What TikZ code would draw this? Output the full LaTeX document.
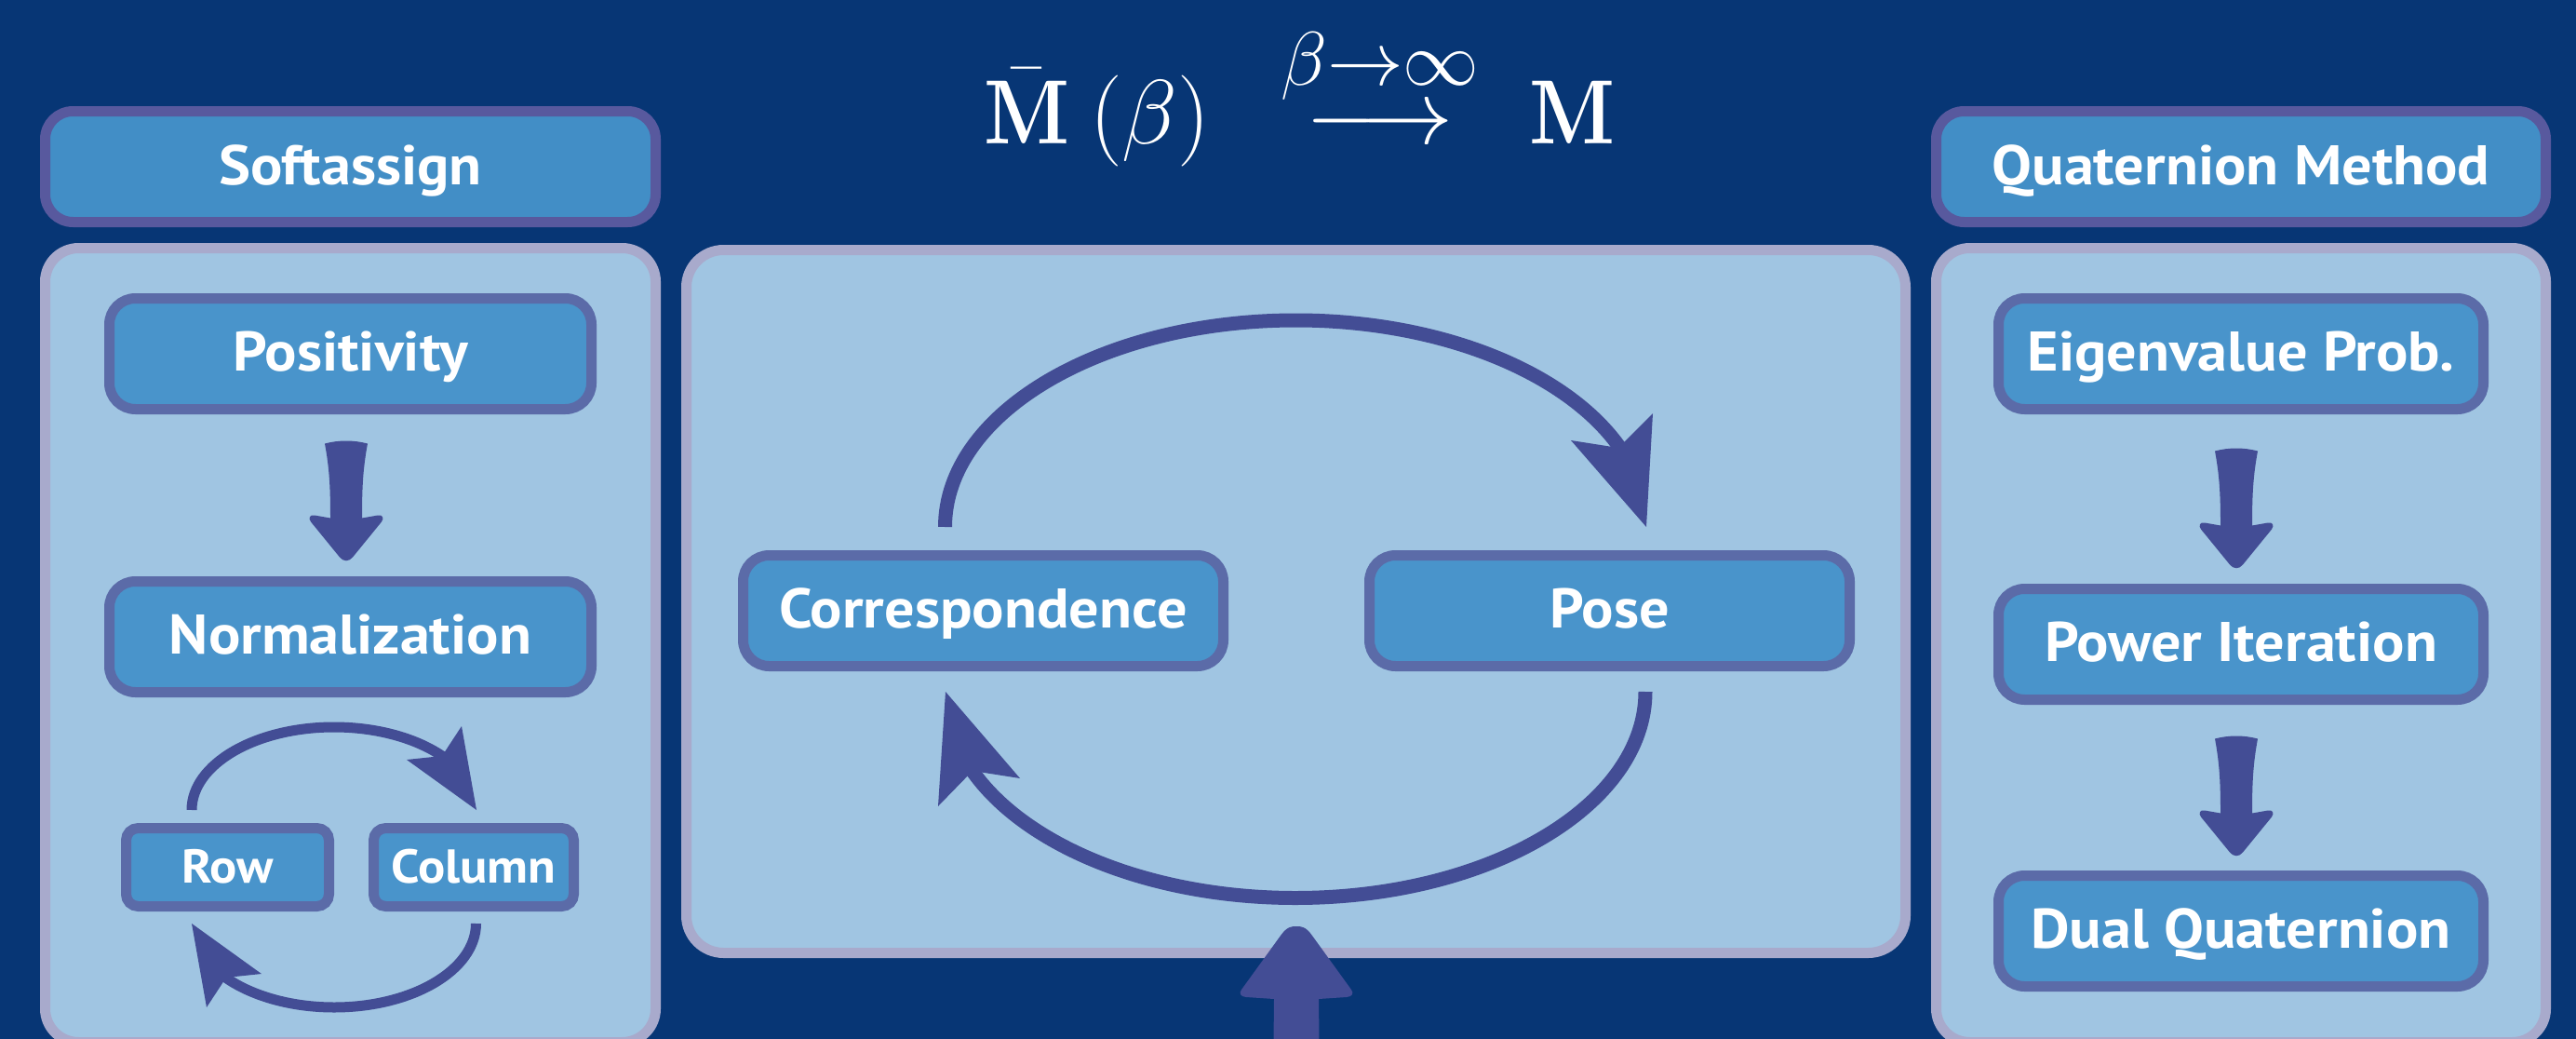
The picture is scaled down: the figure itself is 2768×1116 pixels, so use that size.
\documentclass[tikz,border=0pt]{standalone}
\usepackage{amsmath}
\usepackage[no-math]{fontspec}
\newfontfamily\boxfont{PT Sans}[FakeStretch=1.07]
\newfontfamily\lmbold{lmroman10-bold.otf}
\usetikzlibrary{calc}
\definecolor{bgc}{RGB}{7,54,117}
\definecolor{hdrfill}{RGB}{66,142,198}
\definecolor{hdrline}{RGB}{88,89,158}
\definecolor{boxfill}{RGB}{73,148,203}
\definecolor{boxline}{RGB}{91,107,168}
\definecolor{panelfill}{RGB}{160,197,226}
\definecolor{panelline}{RGB}{168,170,204}
\definecolor{arrowc}{RGB}{67,77,149}
\newcommand\boldM{\hbox{\scalebox{0.86}[1]{\lmbold M}}}
\tikzset{
  panel/.style={draw=panelline, fill=panelfill, line width=11pt, rounded corners=36pt, inner sep=0pt},
  header/.style={draw=hdrline, fill=hdrfill, line width=11pt, rounded corners=30pt, inner sep=0pt,
    text=white, font=\boxfont\bfseries\fontsize{60}{60}\selectfont, text height=38pt, text depth=0pt},
  stepbox/.style={draw=boxline, fill=boxfill, line width=11pt, rounded corners=28pt, inner sep=0pt,
    text=white, font=\boxfont\bfseries\fontsize{60}{60}\selectfont, text height=37pt, text depth=0pt},
  smallbox/.style={draw=boxline, fill=boxfill, line width=11pt, rounded corners=13pt, inner sep=0pt,
    text=white, font=\boxfont\bfseries\fontsize{51}{51}\selectfont, text height=33pt, text depth=0pt},
  loopbig/.style={draw=arrowc, line width=15pt},
  loopsmall/.style={draw=arrowc, line width=11pt},
  headfill/.style={fill=arrowc},
  blkdown/.pic={
    \fill[arrowc] (-23,3) .. controls (-8,-1) and (8,-1) .. (23,3)
      .. controls (18,30) and (17,50) .. (17,83)
      -- (34,80) .. controls (39,79) and (41,83) .. (38,87)
      -- (7,125) .. controls (3,130) and (-3,130) .. (-7,125)
      -- (-38,87) .. controls (-41,83) and (-39,79) .. (-34,80)
      -- (-17,83) .. controls (-17,50) and (-18,30) .. (-23,3) -- cycle;
  },
  blkup/.pic={
    \fill[arrowc] (-25,170) -- (-24,78) -- (-54,76)
      .. controls (-60,75.5) and (-62,72) .. (-59,68)
      -- (-17,10) .. controls (-10,0) and (-5,0) .. (0,0)
      .. controls (5,0) and (10,0) .. (17,10)
      -- (59,68) .. controls (62,72) and (60,75.5) .. (54,76)
      -- (24,78) -- (25,170) -- cycle;
  }
}
\begin{document}
\begin{tikzpicture}[x=1pt,y=-1pt]
\useasboundingbox (0,0) rectangle (2768,1116);
\fill[bgc] (0,0) rectangle (2768,1116);
\begin{scope}
\clip (0,0) rectangle (2768,1116);

% title formula
\node[anchor=base west, inner sep=0pt, text=white] (formula) at (1057,154)
  {\scalebox{3.94}{\fontsize{24.88}{30}\selectfont$\bar{\boldM}\mskip4mu(\beta)\mskip9mu\stackrel{\beta\to\infty}{\longrightarrow}\mskip5mu\boldM$}};

% left column
\node[header, minimum width=656pt, minimum height=119pt] (softhdr) at (376.5,179) {Softassign};
\node[panel, minimum width=656pt, minimum height=853pt] (leftpanel) at (376.5,693) {};
\node[stepbox, minimum width=518pt, minimum height=119pt] (pos) at (376.5,380) {Positivity};
\node[stepbox, minimum width=518pt, minimum height=119pt] (norm) at (376.5,684) {Normalization};
\node[smallbox, minimum width=218pt, minimum height=84pt] (row) at (244.5,931.5) {Row};
\node[smallbox, minimum width=215pt, minimum height=84pt] (col) at (509,931.5) {Column};
\path (pos.south) ++(-4.5,28.5) pic {blkdown};
% Row -> Column loop
\coordinate (rcs) at (206,870);
\coordinate (rct) at (512,870);
\draw[loopsmall] (rcs) arc[start angle=180, end angle=321, x radius=153, y radius=89];
\fill[headfill] (rct) -- (437,816) -- (475,812) -- (496,780) -- cycle;
% Column -> Row loop
\coordinate (crs) at (511.5,992);
\coordinate (crt) at (206,992);
\draw[loopsmall] (crs) arc[start angle=0, end angle=141, x radius=152.5, y radius=90];
\fill[headfill] (crt) -- (281,1046) -- (243,1050) -- (222,1082) -- cycle;

% central panel
\node[panel, rounded corners=40pt, minimum width=1310pt, minimum height=755pt] (cpanel) at (1392.5,646) {};
\node[stepbox, minimum width=516pt, minimum height=119pt] (corr) at (1056.5,656) {Correspondence};
\node[stepbox, minimum width=516pt, minimum height=119pt] (pose) at (1729.5,656) {Pose};
% Correspondence -> Pose
\coordinate (cps) at (1015.5,566);
\coordinate (cpt) at (1769,566);
\draw[loopbig] (cps) arc[start angle=180, end angle=339, x radius=377, y radius=222];
\fill[headfill] (cpt) -- (1688,473) -- (1739,481) -- (1776,444) -- cycle;
% Pose -> Correspondence
\coordinate (pcs) at (1768,743);
\coordinate (pct) at (1016,743);
\draw[loopbig] (pcs) arc[start angle=0, end angle=159, x radius=376, y radius=221.5];
\fill[headfill] (pct) -- (1096,836) -- (1045,828) -- (1008,866) -- cycle;
\path (cpanel.south) ++(0.5,-34) pic {blkup};

% right column
\node[header, minimum width=655pt, minimum height=119pt] (qhdr) at (2408,179) {Quaternion Method};
\node[panel, minimum width=655pt, minimum height=853pt] (rightpanel) at (2408,693) {};
\node[stepbox, minimum width=521pt, minimum height=119pt] (eig) at (2408,380) {Eigenvalue Prob.};
\node[stepbox, minimum width=521pt, minimum height=119pt] (pow) at (2408,692) {Power Iteration};
\node[stepbox, minimum width=521pt, minimum height=119pt] (dual) at (2408,1000) {Dual Quaternion};
\path (eig.south) ++(-5,36.5) pic {blkdown};
\path (pow.south) ++(-5,33.5) pic {blkdown};
\end{scope}
\end{tikzpicture}
\end{document}
